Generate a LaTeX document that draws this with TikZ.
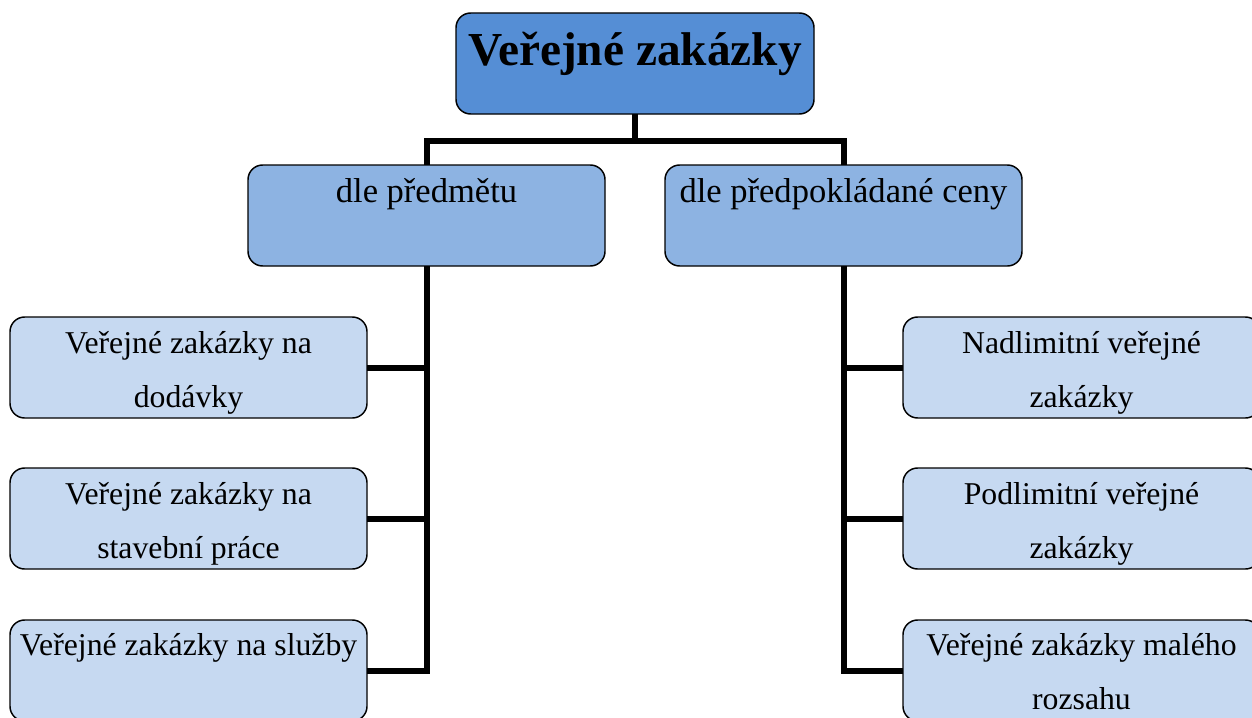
\documentclass[tikz,border=0pt]{standalone}
\usepackage{fontspec}
\setmainfont{Liberation Serif}
\definecolor{topblue}{RGB}{85,142,213}
\definecolor{midblue}{RGB}{141,179,226}
\definecolor{leafblue}{RGB}{198,217,241}
\tikzset{
  box/.style={draw=black, line width=1.1pt, rounded corners=11pt, minimum width=267.75pt, minimum height=75.75pt, inner sep=0pt, outer sep=0pt},
  topbox/.style={box, fill=topblue, minimum width=268.5pt},
  midbox/.style={box, fill=midblue},
  leafbox/.style={box, fill=leafblue},
  conn/.style={line width=4.5pt},
  lbl/.style={inner sep=0pt, anchor=base, align=center},
  titlefont/.style={font=\fontsize{35.5}{40}\selectfont\bfseries},
  midfont/.style={font=\fontsize{25.9}{40.5}\selectfont},
  leaffont/.style={font=\fontsize{23.8}{40.5}\selectfont},
}
\begin{document}
\begin{tikzpicture}[x=0.75pt, y=-0.75pt]
\clip (0,0) rectangle (1252,717);
\fill[white] (0,0) rectangle (1252,717);
% connectors
\coordinate (bar) at (635,141);
% boxes
\node[topbox] (top) at (635,63.5) {};
\node[midbox] (mL) at (426.5,215.5) {};
\node[midbox] (mR) at (843.5,215.5) {};
\node[leafbox] (l1) at (188.5,367.5) {};
\node[leafbox] (l2) at (188.5,518.5) {};
\node[leafbox] (l3) at (188.5,670.5) {};
\node[leafbox] (r1) at (1081.5,367.5) {};
\node[leafbox] (r2) at (1081.5,518.5) {};
\node[leafbox] (r3) at (1081.5,670.5) {};
\draw[conn] (top.south) -- (bar);
\draw[conn] (bar) -| (mL.north);
\draw[conn] (bar) -| (mR.north);
\draw[conn] (mL.south) |- (l3.east);
\draw[conn] (l1.east) -- (l1.east -| mL.south);
\draw[conn] (l2.east) -- (l2.east -| mL.south);
\draw[conn] (mR.south) |- (r3.west);
\draw[conn] (r1.west) -- (r1.west -| mR.south);
\draw[conn] (r2.west) -- (r2.west -| mR.south);
% texts (base anchor = baseline of the last line)
\node[lbl, titlefont] (t0) at (635,65) {Veřejné zakázky};
\node[lbl, midfont] (tmL) at (426.5,202) {dle předmětu};
\node[lbl, midfont] (tmR) at (843.5,202) {dle předpokládané ceny};
\node[lbl, leaffont] (tl1) at (188.5,407) {Veřejné zakázky na\\dodávky};
\node[lbl, leaffont] (tl2) at (188.5,558) {Veřejné zakázky na\\stavební práce};
\node[lbl, leaffont] (tl3) at (188.5,655) {Veřejné zakázky na služby};
\node[lbl, leaffont] (tr1) at (1081.5,407) {Nadlimitní veřejné\\zakázky};
\node[lbl, leaffont] (tr2) at (1081.5,558) {Podlimitní veřejné\\zakázky};
\node[lbl, leaffont] (tr3) at (1081.5,709) {Veřejné zakázky malého\\rozsahu};
\end{tikzpicture}
\end{document}
